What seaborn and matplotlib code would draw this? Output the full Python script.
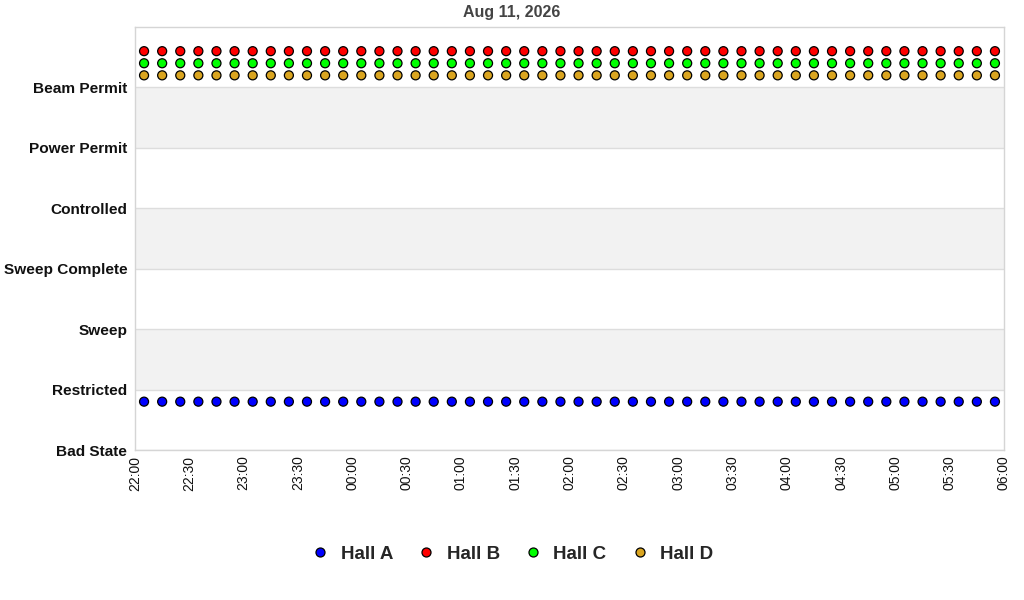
"""
Hall status timeline, Aug 11 2026 (22:00 - 06:00)
"""
import pandas as pd
import matplotlib
matplotlib.use('Agg')
import matplotlib.pyplot as plt
import matplotlib.dates as mdates
import seaborn as sns

# state labels, bottom to top
states = ['Bad State', 'Restricted', 'Sweep', 'Sweep Complete',
          'Controlled', 'Power Permit', 'Beam Permit']

halls = ['Hall A', 'Hall B', 'Hall C', 'Hall D']
hall_colors = ['#0000ff', '#ff0000', '#00ff00', '#daa520']

# sample times, every 10 minutes
times = pd.date_range('2026-08-11 22:05', '2026-08-12 05:55', freq='10min')

# plotted level per hall (state index + hall offset)
hall_a = [0.8] * len(times)
hall_b = [6.6] * len(times)
hall_c = [6.4] * len(times)
hall_d = [6.2] * len(times)

df = pd.concat([
    pd.DataFrame({'time': times, 'level': vals, 'hall': name})
    for name, vals in zip(halls, [hall_a, hall_b, hall_c, hall_d])
])

sns.set_style('white')
plt.rcParams['font.family'] = ['Liberation Sans', 'DejaVu Sans']

fig = plt.figure(figsize=(10.24, 6.0), dpi=100)
ax = fig.add_axes([135 / 1024, 1 - 450 / 600, 869 / 1024, 423 / 600])

# alternating bands
for i in range(len(states)):
    if i % 2 == 1:
        ax.axhspan(i, i + 1, color='#f2f2f2', zorder=0, lw=0)
    ax.axhline(i, color='#dddddd', lw=1, zorder=1)

sns.scatterplot(data=df, x='time', y='level', hue='hall', hue_order=halls,
                palette=hall_colors, s=42, edgecolor='black', linewidth=0.9,
                zorder=3, ax=ax)

ax.set_xlim(pd.Timestamp('2026-08-11 22:00'), pd.Timestamp('2026-08-12 06:00'))
ax.set_ylim(0, 7)
ax.set_yticks(range(len(states)))
ax.set_yticklabels(states, fontsize=11.1, fontweight='bold', color='#111111')
ax.xaxis.set_major_locator(mdates.MinuteLocator(byminute=[0, 30]))
ax.xaxis.set_major_formatter(mdates.DateFormatter('%H:%M'))
plt.setp(ax.get_xticklabels(), rotation=90, fontsize=10, color='#111111')
ax.tick_params(axis='x', length=0, pad=4)
ax.tick_params(axis='y', length=0, pad=5.5)
ax.set_xlabel('')
ax.set_ylabel('')
for sp in ax.spines.values():
    sp.set_color('#d5d5d5')
    sp.set_linewidth(1)

fig.text(0.5, 1 - 13 / 600, 'Aug 11, 2026', ha='center', va='center',
         fontsize=11.5, fontweight='bold', color='#444444')

handles, labels = ax.get_legend_handles_labels()
ax.legend_.remove()
fig.legend(handles, labels, loc='center', bbox_to_anchor=(0.5, 1 - 554 / 600),
           ncol=4, frameon=False, prop={'size': 13.5, 'weight': 'bold'},
           handlelength=1.0, handletextpad=0.6, columnspacing=1.26)

fig.savefig('out.png', dpi=100)
